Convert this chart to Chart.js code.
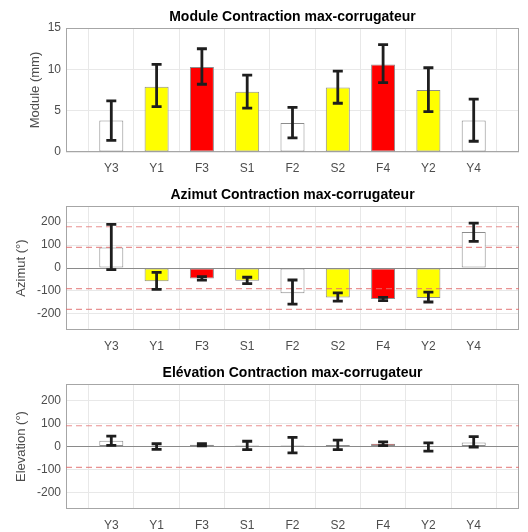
<!DOCTYPE html>
<html><head><meta charset="utf-8">
<script src="https://cdn.jsdelivr.net/npm/chart.js@4/dist/chart.umd.min.js"></script>
<style>
html,body{margin:0;padding:0;background:#fff;overflow:hidden;width:528px;height:532px;}
canvas{position:absolute;left:0;}
</style></head><body>
<canvas id="c1" width="528" height="177" style="top:0px"></canvas>
<canvas id="c2" width="528" height="178" style="top:177px"></canvas>
<canvas id="c3" width="528" height="179" style="top:355px"></canvas>
<script>
// ---- data ----
const categories = ['Y3','Y1','F3','S1','F2','S2','F4','Y2','Y4'];
const barColors  = ['#ffffff','#ffff00','#ff0000','#ffff00','#ffffff','#ffff00','#ff0000','#ffff00','#ffffff'];

const moduleMean = [3.8, 7.9, 10.3, 7.3, 3.5, 7.8, 10.6, 7.5, 3.8];
const moduleLow  = [1.4, 5.5, 8.2, 5.3, 1.7, 5.9, 8.4, 4.9, 1.3];
const moduleHigh = [6.2, 10.6, 12.5, 9.3, 5.4, 9.8, 13.0, 10.2, 6.4];

const azimutMean = [90, -57, -45, -55, -110, -128, -135, -130, 157];
const azimutLow  = [-7, -93, -53, -68, -157, -144, -142, -148, 116];
const azimutHigh = [190, -19, -37, -40, -52, -108, -128, -105, 196];

const elevMean = [25, 2, 8, 5, 5, 7, 12, 1, 18];
const elevLow  = [5, -12, 3, -13, -27, -13, 4, -20, -2];
const elevHigh = [45, 12, 13, 23, 40, 28, 20, 16, 43];

const moduleTicks = [0, 5, 10, 15];
const angleTicks  = [-200, -100, 0, 100, 200];
const azimutRefs  = [180, 90, -90, -180];
const elevRefs    = [90, -90];

// ---- helpers ----
const padLabels = ['', ...categories, ''];
const pad = arr => [null, ...arr, null];

const boxPlugin = {
  id: 'box',
  beforeDatasetsDraw(chart) {
    const {ctx, chartArea: a} = chart;
    ctx.save();
    ctx.strokeStyle = '#a6a6a6';
    ctx.lineWidth = 1;
    ctx.strokeRect(Math.round(a.left) + 0.5, Math.round(a.top) + 0.5,
                   Math.round(a.right - a.left) - 1, Math.round(a.bottom - a.top) - 1);
    ctx.restore();
  }
};

const errPlugin = {
  id: 'errbars',
  afterDatasetsDraw(chart, args, opts) {
    const {ctx} = chart;
    const xs = chart.scales.x, ys = chart.scales.y;
    ctx.save();
    ctx.strokeStyle = '#1e1e1e';
    ctx.lineWidth = 2.8;
    ctx.lineCap = 'butt';
    opts.low.forEach((lo, i) => {
      const hi = opts.high[i];
      const x = xs.getPixelForValue(i + 1);
      const y1 = ys.getPixelForValue(lo), y2 = ys.getPixelForValue(hi);
      ctx.beginPath();
      ctx.moveTo(x, y1); ctx.lineTo(x, y2);
      ctx.moveTo(x - 5, y1); ctx.lineTo(x + 5, y1);
      ctx.moveTo(x - 5, y2); ctx.lineTo(x + 5, y2);
      ctx.stroke();
    });
    ctx.restore();
  }
};

function makeChart(id, cfg) {
  const datasets = [{
    type: 'bar',
    data: pad(cfg.mean),
    backgroundColor: pad(barColors),
    borderColor: '#8c8c8c',
    borderWidth: 1,
    borderSkipped: false,
    barPercentage: 0.53,
    categoryPercentage: 1,
    order: 2
  }];
  cfg.refs.forEach(r => {
    datasets.push({
      type: 'line',
      data: padLabels.map(() => r),
      borderColor: 'rgba(225,110,110,0.75)',
      borderWidth: 1.2,
      borderDash: [6, 4],
      pointRadius: 0,
      fill: false,
      order: 1
    });
  });
  return new Chart(document.getElementById(id), {
    type: 'bar',
    data: {labels: padLabels, datasets},
    options: {
      responsive: false,
      animation: false,
      events: [],
      layout: {padding: {left: 0, right: 5, top: 0, bottom: 0}},
      plugins: {
        legend: {display: false},
        tooltip: {enabled: false},
        title: {
          display: true, text: cfg.title, color: '#000', fullSize: false,
          font: {family: 'Liberation Sans, Arial, sans-serif', size: 14, weight: 'bold'},
          padding: {top: cfg.titleTop, bottom: 3}
        },
        errbars: {low: cfg.low, high: cfg.high}
      },
      scales: {
        x: {
          type: 'category',
          offset: false,
          border: {display: false},
          grid: {color: '#e8e8e8', drawTicks: false},
          ticks: {
            autoSkip: false, maxRotation: 0, padding: 9, color: '#4d4d4d',
            font: {family: 'Liberation Sans, Arial, sans-serif', size: 12}
          },
          afterFit: s => { s.height = 25; }
        },
        y: {
          min: cfg.min, max: cfg.max,
          border: {display: false},
          grid: {
            drawTicks: false,
            color: c => (cfg.zeroLine && c.tick && c.tick.value === 0) ? '#8a8a8a' : '#e8e8e8'
          },
          afterBuildTicks: s => { s.ticks = cfg.ticks.map(v => ({value: v})); },
          ticks: {
            padding: 5, color: '#4d4d4d',
            font: {family: 'Liberation Sans, Arial, sans-serif', size: 12}
          },
          title: {
            display: true, text: cfg.ytitle, color: '#4d4d4d',
            font: {family: 'Liberation Sans, Arial, sans-serif', size: 13},
            padding: {top: cfg.ytitlePad, bottom: 0}
          },
          afterFit: s => { s.width = 66; }
        }
      }
    },
    plugins: [boxPlugin, errPlugin]
  });
}

makeChart('c1', {
  title: 'Module Contraction max-corrugateur', titleTop: 8.3,
  ytitle: 'Module (mm)', ytitlePad: 28,
  mean: moduleMean, low: moduleLow, high: moduleHigh,
  min: 0, max: 15, ticks: moduleTicks, refs: [], zeroLine: false
});
makeChart('c2', {
  title: 'Azimut Contraction max-corrugateur', titleTop: 9.3,
  ytitle: 'Azimut (°)', ytitlePad: 14,
  mean: azimutMean, low: azimutLow, high: azimutHigh,
  min: -270, max: 270, ticks: angleTicks, refs: azimutRefs, zeroLine: true
});
makeChart('c3', {
  title: 'Elévation Contraction max-corrugateur', titleTop: 9.3,
  ytitle: 'Elevation (°)', ytitlePad: 14,
  mean: elevMean, low: elevLow, high: elevHigh,
  min: -270, max: 270, ticks: angleTicks, refs: elevRefs, zeroLine: true
});
</script>
</body></html>
